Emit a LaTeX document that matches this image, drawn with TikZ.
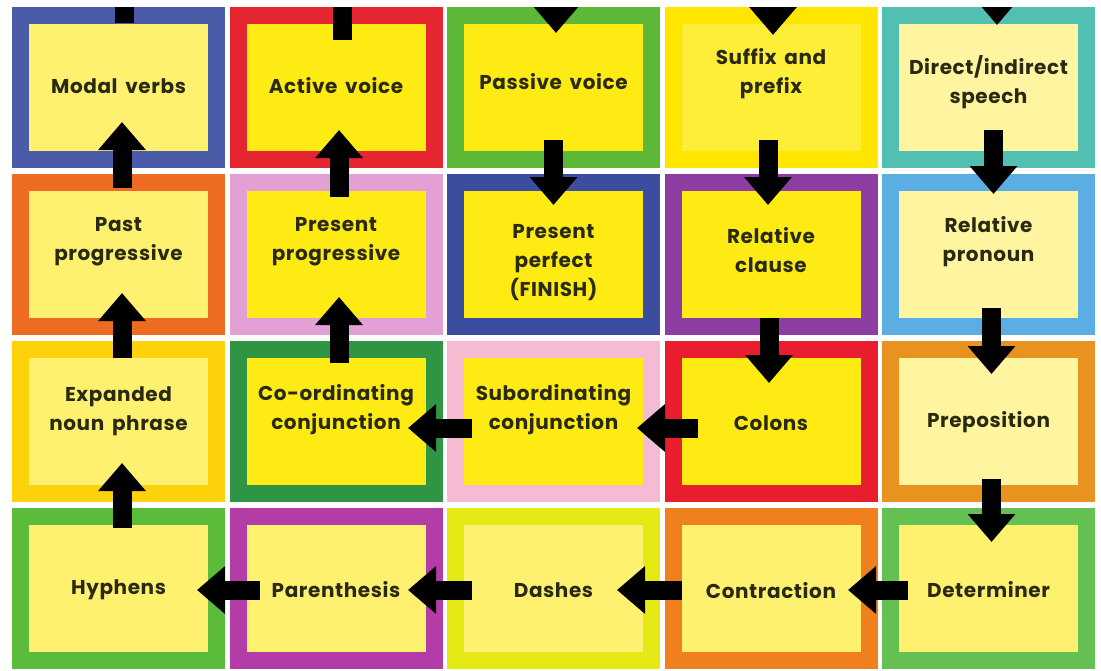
\documentclass[tikz,border=0pt]{standalone}
\usepackage{fontspec}
\setmainfont{Poppins}[LetterSpace=3,WordSpace=1.6]
\usetikzlibrary{arrows.meta,calc}
\definecolor{cblueM}{HTML}{4A5BA8}
\definecolor{credA}{HTML}{E52530}
\definecolor{cgreenP}{HTML}{5CB836}
\definecolor{cyelS}{HTML}{FFE600}
\definecolor{cteal}{HTML}{52BFB3}
\definecolor{corangePP}{HTML}{EE6B22}
\definecolor{cpinkPrP}{HTML}{E3A0D5}
\definecolor{cbluePf}{HTML}{3C4DA0}
\definecolor{cpurple}{HTML}{8E3DA3}
\definecolor{clblue}{HTML}{5AAEE3}
\definecolor{cgold}{HTML}{FDD20A}
\definecolor{cdgreen}{HTML}{2F9444}
\definecolor{clpink}{HTML}{F4BBD3}
\definecolor{credC}{HTML}{E81E2E}
\definecolor{corangePre}{HTML}{E8921F}
\definecolor{cgreenH}{HTML}{5BBB3A}
\definecolor{cmagenta}{HTML}{B43CA6}
\definecolor{clime}{HTML}{E5EA14}
\definecolor{corangeCon}{HTML}{F0801E}
\definecolor{cgreenD}{HTML}{65C052}
\definecolor{ipale}{HTML}{FFF170}
\definecolor{ibright}{HTML}{FFEB14}
\definecolor{isuffix}{HTML}{FFEE38}
\definecolor{icream}{HTML}{FFF5A0}
\definecolor{txt}{HTML}{2A2A12}
\tikzset{
  cell/.style={rectangle, line width=17pt, minimum width=196pt, minimum height=144pt, inner sep=0pt, outer sep=0pt},
  lbl/.style={text=txt, font=\fontsize{20}{29}\selectfont\bfseries, align=center, inner sep=0pt},
  bigarrow/.style={line width=19pt, -{Triangle[width=46pt,length=28pt]}, black},
  stub/.style={line width=19pt, black}
}
\begin{document}
\begin{tikzpicture}[x=1pt,y=-1pt]
\useasboundingbox (0,0) rectangle (1101,670);
\fill[white] (0,0) rectangle (1101,670);
\begin{scope}
\clip (0,7) rectangle (1101,670);
% row 1
\node[cell, draw=cblueM, fill=ipale] (mv) at (118.5,87.5) {};
\node[cell, draw=credA, fill=ibright] (av) at (336,87.5) {};
\node[cell, draw=cgreenP, fill=ibright] (pv) at (553.5,87.5) {};
\node[cell, draw=cyelS, fill=isuffix] (sp) at (771,87.5) {};
\node[cell, draw=cteal, fill=icream] (di) at (988.5,87.5) {};
% row 2
\node[cell, draw=corangePP, fill=ipale] (pp) at (118.5,254.5) {};
\node[cell, draw=cpinkPrP, fill=ibright] (prp) at (336,254.5) {};
\node[cell, draw=cbluePf, fill=ibright] (pf) at (553.5,254.5) {};
\node[cell, draw=cpurple, fill=ibright] (rc) at (771,254.5) {};
\node[cell, draw=clblue, fill=icream] (rp) at (988.5,254.5) {};
% row 3
\node[cell, draw=cgold, fill=ipale] (en) at (118.5,421.5) {};
\node[cell, draw=cdgreen, fill=ibright] (co) at (336,421.5) {};
\node[cell, draw=clpink, fill=ibright] (sub) at (553.5,421.5) {};
\node[cell, draw=credC, fill=ibright] (col) at (771,421.5) {};
\node[cell, draw=corangePre, fill=icream] (pre) at (988.5,421.5) {};
% row 4
\node[cell, draw=cgreenH, fill=ipale] (hy) at (118.5,588.5) {};
\node[cell, draw=cmagenta, fill=ipale] (par) at (336,588.5) {};
\node[cell, draw=clime, fill=ipale] (da) at (553.5,588.5) {};
\node[cell, draw=corangeCon, fill=ipale] (con) at (771,588.5) {};
\node[cell, draw=cgreenD, fill=ipale] (det) at (988.5,588.5) {};

% labels
\node[lbl] (tmv) at ($(mv)+(0,-1.5)$) {Modal verbs};
\node[lbl] (tav) at ($(av)+(0,-1.5)$) {Active voice};
\node[lbl] (tpv) at ($(pv)+(0,-5.5)$) {Passive voice};
\node[lbl] (tsp) at ($(sp)+(0,-13.5)$) {Suffix and\\prefix};
\node[lbl] (tdi) at ($(di)+(0,-5.5)$) {Direct/indirect\\speech};
\node[lbl] (tpp) at ($(pp)+(0,-12.5)$) {Past\\progressive};
\node[lbl] (tprp) at ($(prp)+(0,-12.5)$) {Present\\progressive};
\node[lbl] (tpf) at ($(pf)+(0,8.5)$) {Present\\perfect\\{\fontsize{20}{29}\selectfont\bfseries (FINISH)}};
\node[lbl] (trc) at ($(rc)+(0,-4.5)$) {Relative\\clause};
\node[lbl] (trp) at ($(rp)+(0,-12.5)$) {Relative\\pronoun};
\node[lbl] (ten) at ($(en)+(0,-10.5)$) {Expanded\\noun phrase};
\node[lbl] (tco) at ($(co)+(0,-11.5)$) {Co-ordinating\\conjunction};
\node[lbl] (tsub) at ($(sub)+(0,-11.5)$) {Subordinating\\conjunction};
\node[lbl] (tcol) at ($(col)+(0,1.5)$) {Colons};
\node[lbl] (tpre) at ($(pre)+(0,0.5)$) {Preposition};
\node[lbl] (thy) at ($(hy)+(0,1.5)$) {Hyphens};
\node[lbl] (tpar) at ($(par)+(0,1.5)$) {Parenthesis};
\node[lbl] (tda) at ($(da)+(0,1.5)$) {Dashes};
\node[lbl] (tcon) at ($(con)+(0,2.5)$) {Contraction};
\node[lbl] (tdet) at ($(det)+(0,1.5)$) {Determiner};

% arrows entering/leaving at the top edge
\coordinate (e1) at (124,0);
\coordinate (e2) at (342,0);
\coordinate (e3) at (556,0);
\coordinate (e4) at (773,0);
\coordinate (e5) at (997,0);
\draw[stub] (e1) -- ($(mv)+(5.5,-64.5)$);
\draw[stub] (e2) -- ($(av)+(6,-47.5)$);
\draw[bigarrow] (e3) -- ($(pv)+(2.5,-54.5)$);
\draw[bigarrow] (e4) -- ($(sp)+(2,-52.5)$);
\draw[bigarrow] (e5) -- ($(di)+(8.5,-62.5)$);

% vertical arrows
\draw[bigarrow] ($(pp)+(3.5,-66.5)$) -- ($(mv)+(3.5,34.5)$);
\draw[bigarrow] ($(prp)+(3,-57.5)$) -- ($(av)+(3,42.5)$);
\draw[bigarrow] ($(pv)+(0,52.5)$) -- ($(pf)+(0,-49.5)$);
\draw[bigarrow] ($(sp)+(-3,52.5)$) -- ($(rc)+(-3,-49.5)$);
\draw[bigarrow] ($(di)+(5,42.5)$) -- ($(rp)+(5,-60.5)$);
\draw[bigarrow] ($(en)+(3.5,-63.5)$) -- ($(pp)+(3.5,38.5)$);
\draw[bigarrow] ($(co)+(3,-58.5)$) -- ($(prp)+(3,42.5)$);
\draw[bigarrow] ($(rc)+(-2,63.5)$) -- ($(col)+(-2,-38.5)$);
\draw[bigarrow] ($(rp)+(3,53.5)$) -- ($(pre)+(3,-47.5)$);
\draw[bigarrow] ($(pre)+(3,57.5)$) -- ($(det)+(3,-46.5)$);
\draw[bigarrow] ($(hy)+(3.5,-60.5)$) -- ($(en)+(3.5,41.5)$);
% horizontal arrows
\draw[bigarrow] ($(sub)+(-81.5,6.5)$) -- ($(co)+(72,6.5)$);
\draw[bigarrow] ($(col)+(-73,6.5)$) -- ($(sub)+(83.5,6.5)$);
\draw[bigarrow] ($(det)+(-80.5,1.5)$) -- ($(con)+(77,1.5)$);
\draw[bigarrow] ($(con)+(-89,1.5)$) -- ($(da)+(63.5,1.5)$);
\draw[bigarrow] ($(da)+(-81.5,1.5)$) -- ($(par)+(72,1.5)$);
\draw[bigarrow] ($(par)+(-76,1.5)$) -- ($(hy)+(78.5,1.5)$);
\end{scope}
\end{tikzpicture}
\end{document}
